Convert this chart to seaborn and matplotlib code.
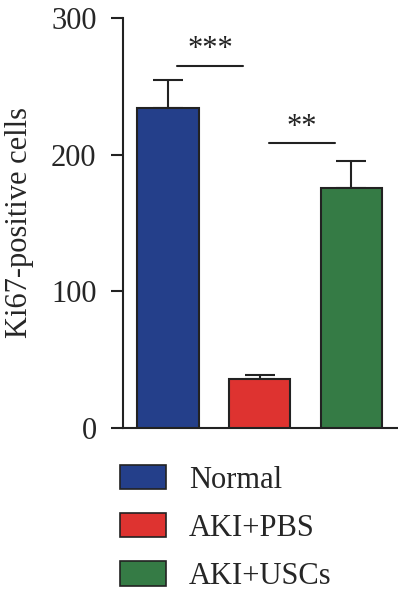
import numpy as np
import pandas as pd
import matplotlib
matplotlib.use("Agg")
import matplotlib.pyplot as plt
import seaborn as sns
from matplotlib.patches import Patch

# ---------------------------------------------------------
# DATA
# ---------------------------------------------------------
groups = ["Normal", "AKI+PBS", "AKI+USCs"]
means = [234, 36, 175.5]
sem = [21, 3, 20]
colors = ["#243f8a", "#de3330", "#357b45"]
yticks = [0, 100, 200, 300]
comparisons = [(0, 1, "***", 265), (1, 2, "**", 208.5)]

df = pd.DataFrame({"group": groups, "value": means})

# ---------------------------------------------------------
# PLOT
# ---------------------------------------------------------
sns.set_style("ticks")
plt.rcParams["font.family"] = ["Liberation Serif", "DejaVu Serif"]
FS = 22

fig = plt.figure(figsize=(3.98, 6.05), dpi=100)
ax = fig.add_axes([123 / 398, 1 - 428 / 605, 275 / 398, 410 / 605])

sns.barplot(data=df, x="group", y="value", hue="group", palette=colors,
            saturation=1, width=0.67, edgecolor="#222222", linewidth=1.5,
            legend=False, errorbar=None, ax=ax, zorder=3)

ax.errorbar(range(len(groups)), means, yerr=[np.zeros(len(sem)), sem],
            fmt="none", ecolor="#222222", elinewidth=1.5, capsize=11,
            capthick=1.5, zorder=1)

for i, j, stars, h in comparisons:
    ax.plot([i + 0.1, j - 0.18], [h, h], color="#222222", lw=1.5)
    ax.text((i + j) / 2 - 0.04, h + 1, stars, ha="center", va="bottom",
            fontsize=FS, color="#222222")

ax.set_xlim(-0.49, 2.51)
ax.set_ylim(0, 300)
ax.set_yticks(yticks)
ax.set_xticks([])
ax.set_xlabel("")
ax.set_ylabel("Ki67-positive cells", fontsize=FS, labelpad=12)
ax.tick_params(axis="y", labelsize=FS, length=9, width=1.5, pad=10,
               color="#222222")
for s in ["left", "bottom"]:
    ax.spines[s].set_linewidth(1.5)
    ax.spines[s].set_color("#222222")
sns.despine(ax=ax)
ax.spines["left"].set_bounds(0, 300)

handles = [Patch(facecolor=c, edgecolor="#222222", linewidth=1.2) for c in colors]
fig.legend(handles, groups, loc="upper left",
           bbox_to_anchor=(120 / 398, 1 - 465 / 605), frameon=False,
           fontsize=FS, handlelength=1.5, handleheight=0.85,
           handletextpad=0.75, labelspacing=0.6, borderpad=0, borderaxespad=0)

plt.savefig("out.png", dpi=100)
